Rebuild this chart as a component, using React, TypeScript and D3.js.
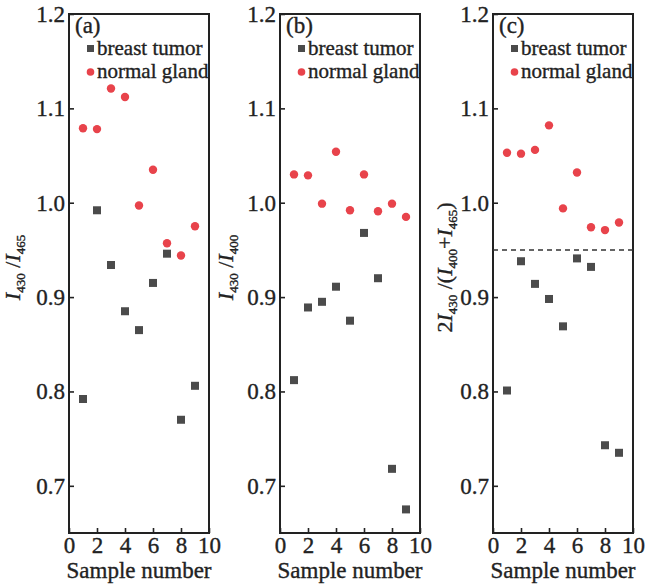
import { useRef, useEffect } from "react";
import * as d3 from "d3";

// sample index on the x axis
const samples = [1, 2, 3, 4, 5, 6, 7, 8, 9];

// (a) I430 / I465
const tumorA = [0.792, 0.992, 0.934, 0.885, 0.865, 0.915, 0.946, 0.77, 0.806];
const normalA = [1.079, 1.078, 1.121, 1.112, 0.997, 1.035, 0.957, 0.944, 0.975];

// (b) I430 / I400
const tumorB = [0.812, 0.889, 0.895, 0.911, 0.875, 0.968, 0.92, 0.718, 0.675];
const normalB = [1.03, 1.029, 0.999, 1.054, 0.992, 1.03, 0.991, 0.999, 0.985];

// (c) 2 I430 / (I400 + I465)
const tumorC = [0.801, 0.938, 0.914, 0.898, 0.869, 0.941, 0.932, 0.743, 0.735];
const normalC = [1.053, 1.052, 1.056, 1.082, 0.994, 1.032, 0.974, 0.971, 0.979];
const thresholdC = 0.95;

const xTicks = [0, 2, 4, 6, 8, 10];
const yTicks = [0.7, 0.8, 0.9, 1.0, 1.1, 1.2];
const legendLabels = ["breast tumor", "normal gland"];

const FONT = "Liberation Serif";
const INK = "#222";
const TUMOR = "#4b4b4b";
const NORMAL = "#e8434b";

const panels = [
  { id: "(a)", left: 69, tumor: tumorA, normal: normalA, subs: ["430", "465"], labelX: 20, threshold: null },
  { id: "(b)", left: 280, tumor: tumorB, normal: normalB, subs: ["430", "400"], labelX: 233, threshold: null },
  { id: "(c)", left: 493, tumor: tumorC, normal: normalC, subs: null, labelX: 452, threshold: thresholdC },
];

const PW = 140;
const TOP = 14;
const BOTTOM = 533;

// serif text, a touch heavier than the default weight
const styleText = (sel: any, size: number) =>
  sel
    .style("font-family", FONT)
    .style("font-size", `${size}px`)
    .attr("fill", INK)
    .attr("stroke", INK)
    .attr("stroke-width", 0.35);

const App = () => {
  const svgRef = useRef<SVGSVGElement>(null);

  useEffect(() => {
    const svg = d3.select(svgRef.current);
    svg.selectAll("*").remove();

    const yScale = d3.scaleLinear().domain([0.65, 1.2]).range([BOTTOM, TOP]);

    panels.forEach((p) => {
      const xScale = d3.scaleLinear().domain([0, 10]).range([p.left, p.left + PW]);
      const g = svg.append("g");

      // Axes with inward ticks
      const xAxis = d3.axisBottom(xScale).tickValues(xTicks).tickSize(-5).tickPadding(4).tickFormat(d3.format("d"));
      const yAxis = d3.axisLeft(yScale).tickValues(yTicks).tickSize(-5).tickPadding(4).tickFormat(d3.format(".1f"));

      const gx = g.append("g").attr("transform", `translate(0, ${BOTTOM})`).call(xAxis);
      const gy = g.append("g").attr("transform", `translate(${p.left}, 0)`).call(yAxis);
      [gx, gy].forEach((ax) => {
        ax.attr("font-family", null).attr("font-size", null);
        ax.select(".domain").remove();
        ax.selectAll("line").attr("stroke", INK).attr("stroke-width", 1.6);
        styleText(ax.selectAll("text"), 23);
      });

      // Frame
      g.append("rect")
        .attr("x", p.left)
        .attr("y", TOP)
        .attr("width", PW)
        .attr("height", BOTTOM - TOP)
        .attr("fill", "none")
        .attr("stroke", INK)
        .attr("stroke-width", 2);

      // Threshold line (panel c)
      if (p.threshold !== null) {
        g.append("line")
          .attr("x1", p.left)
          .attr("x2", p.left + PW)
          .attr("y1", yScale(p.threshold))
          .attr("y2", yScale(p.threshold))
          .attr("stroke", "#333")
          .attr("stroke-width", 1.5)
          .attr("stroke-dasharray", "5,4");
      }

      // Tumor squares
      g.selectAll(".sq")
        .data(samples)
        .join("rect")
        .attr("x", (d) => xScale(d) - 4)
        .attr("y", (d, i) => yScale(p.tumor[i]) - 4)
        .attr("width", 8)
        .attr("height", 8)
        .attr("fill", TUMOR);

      // Normal circles
      g.selectAll(".ci")
        .data(samples)
        .join("circle")
        .attr("cx", (d) => xScale(d))
        .attr("cy", (d, i) => yScale(p.normal[i]))
        .attr("r", 4.2)
        .attr("fill", NORMAL);

      // Panel id and legend
      styleText(g.append("text").attr("x", p.left + 6).attr("y", 33), 23).text(p.id);
      g.append("rect")
        .attr("x", p.left + 18)
        .attr("y", 45)
        .attr("width", 7)
        .attr("height", 7)
        .attr("fill", TUMOR);
      g.append("circle")
        .attr("cx", p.left + 21.5)
        .attr("cy", 72)
        .attr("r", 3.8)
        .attr("fill", NORMAL);
      legendLabels.forEach((lab, i) => {
        styleText(g.append("text").attr("x", p.left + 28).attr("y", 55 + i * 23), 21).text(lab);
      });

      // x label
      styleText(
        g.append("text").attr("x", p.left + PW / 2).attr("y", 578).attr("text-anchor", "middle"),
        23
      ).text("Sample number");

      // y label
      const yl = styleText(
        g
          .append("text")
          .attr("transform", `translate(${p.labelX}, ${(TOP + BOTTOM) / 2 - 6}) rotate(-90)`)
          .attr("text-anchor", "middle"),
        22
      );
      const part = (t: string, opts: { italic?: boolean; sub?: boolean; up?: boolean }) => {
        const s = yl.append("tspan").text(t);
        if (opts.italic) s.style("font-style", "italic");
        if (opts.sub) s.style("font-size", "13px").attr("dy", 5);
        if (opts.up) s.attr("dy", -5);
      };
      if (p.subs) {
        part("I", { italic: true });
        part(p.subs[0], { sub: true });
        part(" /", { up: true });
        part("I", { italic: true });
        part(p.subs[1], { sub: true });
      } else {
        part("2", {});
        part("I", { italic: true });
        part("430", { sub: true });
        part(" /(", { up: true });
        part("I", { italic: true });
        part("400", { sub: true });
        part("+", { up: true });
        part("I", { italic: true });
        part("465", { sub: true });
        part(")", { up: true });
      }
    });
  }, []);

  return (
    <div>
      <svg
        ref={svgRef}
        width={658}
        height={584}
        style={{ position: "absolute", left: 0, top: 0, background: "#fff" }}
      ></svg>
    </div>
  );
};

export default App;
